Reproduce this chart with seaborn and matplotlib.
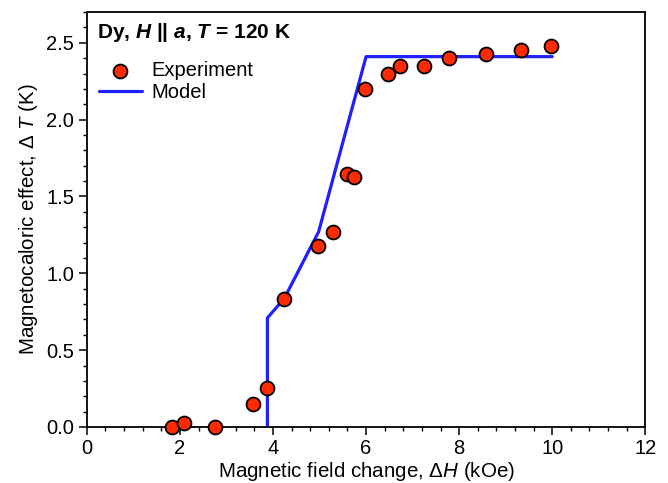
import matplotlib
matplotlib.use("Agg")
import matplotlib.pyplot as plt
import seaborn as sns
import pandas as pd
from matplotlib.ticker import MultipleLocator

# Data
exp_field = [1.83, 2.09, 2.75, 3.57, 3.87, 4.24, 4.97, 5.29, 5.59, 5.74,
             5.98, 6.47, 6.73, 7.25, 7.78, 8.58, 9.33, 9.98]
exp_dT = [0.00, 0.026, 0.00, 0.15, 0.255, 0.835, 1.175, 1.27, 1.645, 1.625,
          2.20, 2.30, 2.35, 2.35, 2.40, 2.43, 2.45, 2.48]
model_field = [3.88, 3.88, 4.24, 4.98, 6.0, 10.0]
model_dT = [0.0, 0.71, 0.835, 1.27, 2.41, 2.41]

exp_df = pd.DataFrame({"field": exp_field, "dT": exp_dT})
model_df = pd.DataFrame({"field": model_field, "dT": model_dT})

sns.set_style("ticks")
plt.rcParams['font.family'] = ['Liberation Sans', 'DejaVu Sans']
plt.rcParams['text.color'] = 'black'
plt.rcParams['axes.labelcolor'] = 'black'
plt.rcParams['xtick.color'] = 'black'
plt.rcParams['ytick.color'] = 'black'
plt.rcParams['mathtext.fontset'] = 'custom'
plt.rcParams['mathtext.rm'] = 'Liberation Sans'
plt.rcParams['mathtext.it'] = 'Liberation Sans:italic'
plt.rcParams['mathtext.bf'] = 'Liberation Sans:bold'
try:
    plt.rcParams['mathtext.bfit'] = 'Liberation Sans:bold:italic'
except KeyError:
    pass

fig, ax = plt.subplots(figsize=(6.68, 4.83), dpi=100)
fig.subplots_adjust(left=0.130, right=0.966, top=0.975, bottom=0.116)

sns.lineplot(data=model_df, x="field", y="dT", ax=ax, sort=False, estimator=None,
             color="#1f1fff", linewidth=2.3, label="Model", zorder=2)
sns.scatterplot(data=exp_df, x="field", y="dT", ax=ax, s=100, color="#ff2a00",
                edgecolor="black", linewidth=1.3, label="Experiment", zorder=3,
                clip_on=False)

ax.set_xlim(0, 12)
ax.set_ylim(0, 2.7)
ax.xaxis.set_major_locator(MultipleLocator(2))
ax.xaxis.set_minor_locator(MultipleLocator(0.4))
ax.yaxis.set_major_locator(MultipleLocator(0.5))
ax.yaxis.set_minor_locator(MultipleLocator(0.1))
ax.yaxis.set_major_formatter(matplotlib.ticker.FormatStrFormatter('%.1f'))
ax.tick_params(which='major', direction='out', length=6, width=1.1, labelsize=14.5,
               colors='black', pad=3)
ax.tick_params(which='minor', direction='out', length=3, width=1.0)
for sp in ax.spines.values():
    sp.set_visible(True)
    sp.set_linewidth(1.3)
    sp.set_color('black')

ax.set_xlabel(r"Magnetic field change, Δ$\mathit{H}$ (kOe)", fontsize=14.8, labelpad=1)
ax.set_ylabel(r"Magnetocaloric effect, Δ $\mathit{T}$ (K)", fontsize=14.8, labelpad=5)

title = r"Dy, $\mathbfit{H}$ || $\mathbfit{a}$, $\mathbfit{T}$ = 120 K"
t = ax.text(0.018, 0.978, title, transform=ax.transAxes, fontsize=15,
            fontweight='bold', va='top', ha='left')
try:
    fig.canvas.draw()
except Exception:
    t.remove()
    title = r"Dy, $\mathbf{H}$ || $\mathbf{a}$, $\mathbf{T}$ = 120 K"
    ax.text(0.018, 0.978, title, transform=ax.transAxes, fontsize=15,
            fontweight='bold', va='top', ha='left')

handles, labels = ax.get_legend_handles_labels()
order = [labels.index("Experiment"), labels.index("Model")]
ax.legend([handles[i] for i in order], [labels[i] for i in order],
          loc='upper left', bbox_to_anchor=(-0.003, 0.915), frameon=False,
          fontsize=14.5, handlelength=2.1, handletextpad=0.5, labelspacing=0.15,
          borderaxespad=0.3)

fig.savefig("out.png", dpi=100)
